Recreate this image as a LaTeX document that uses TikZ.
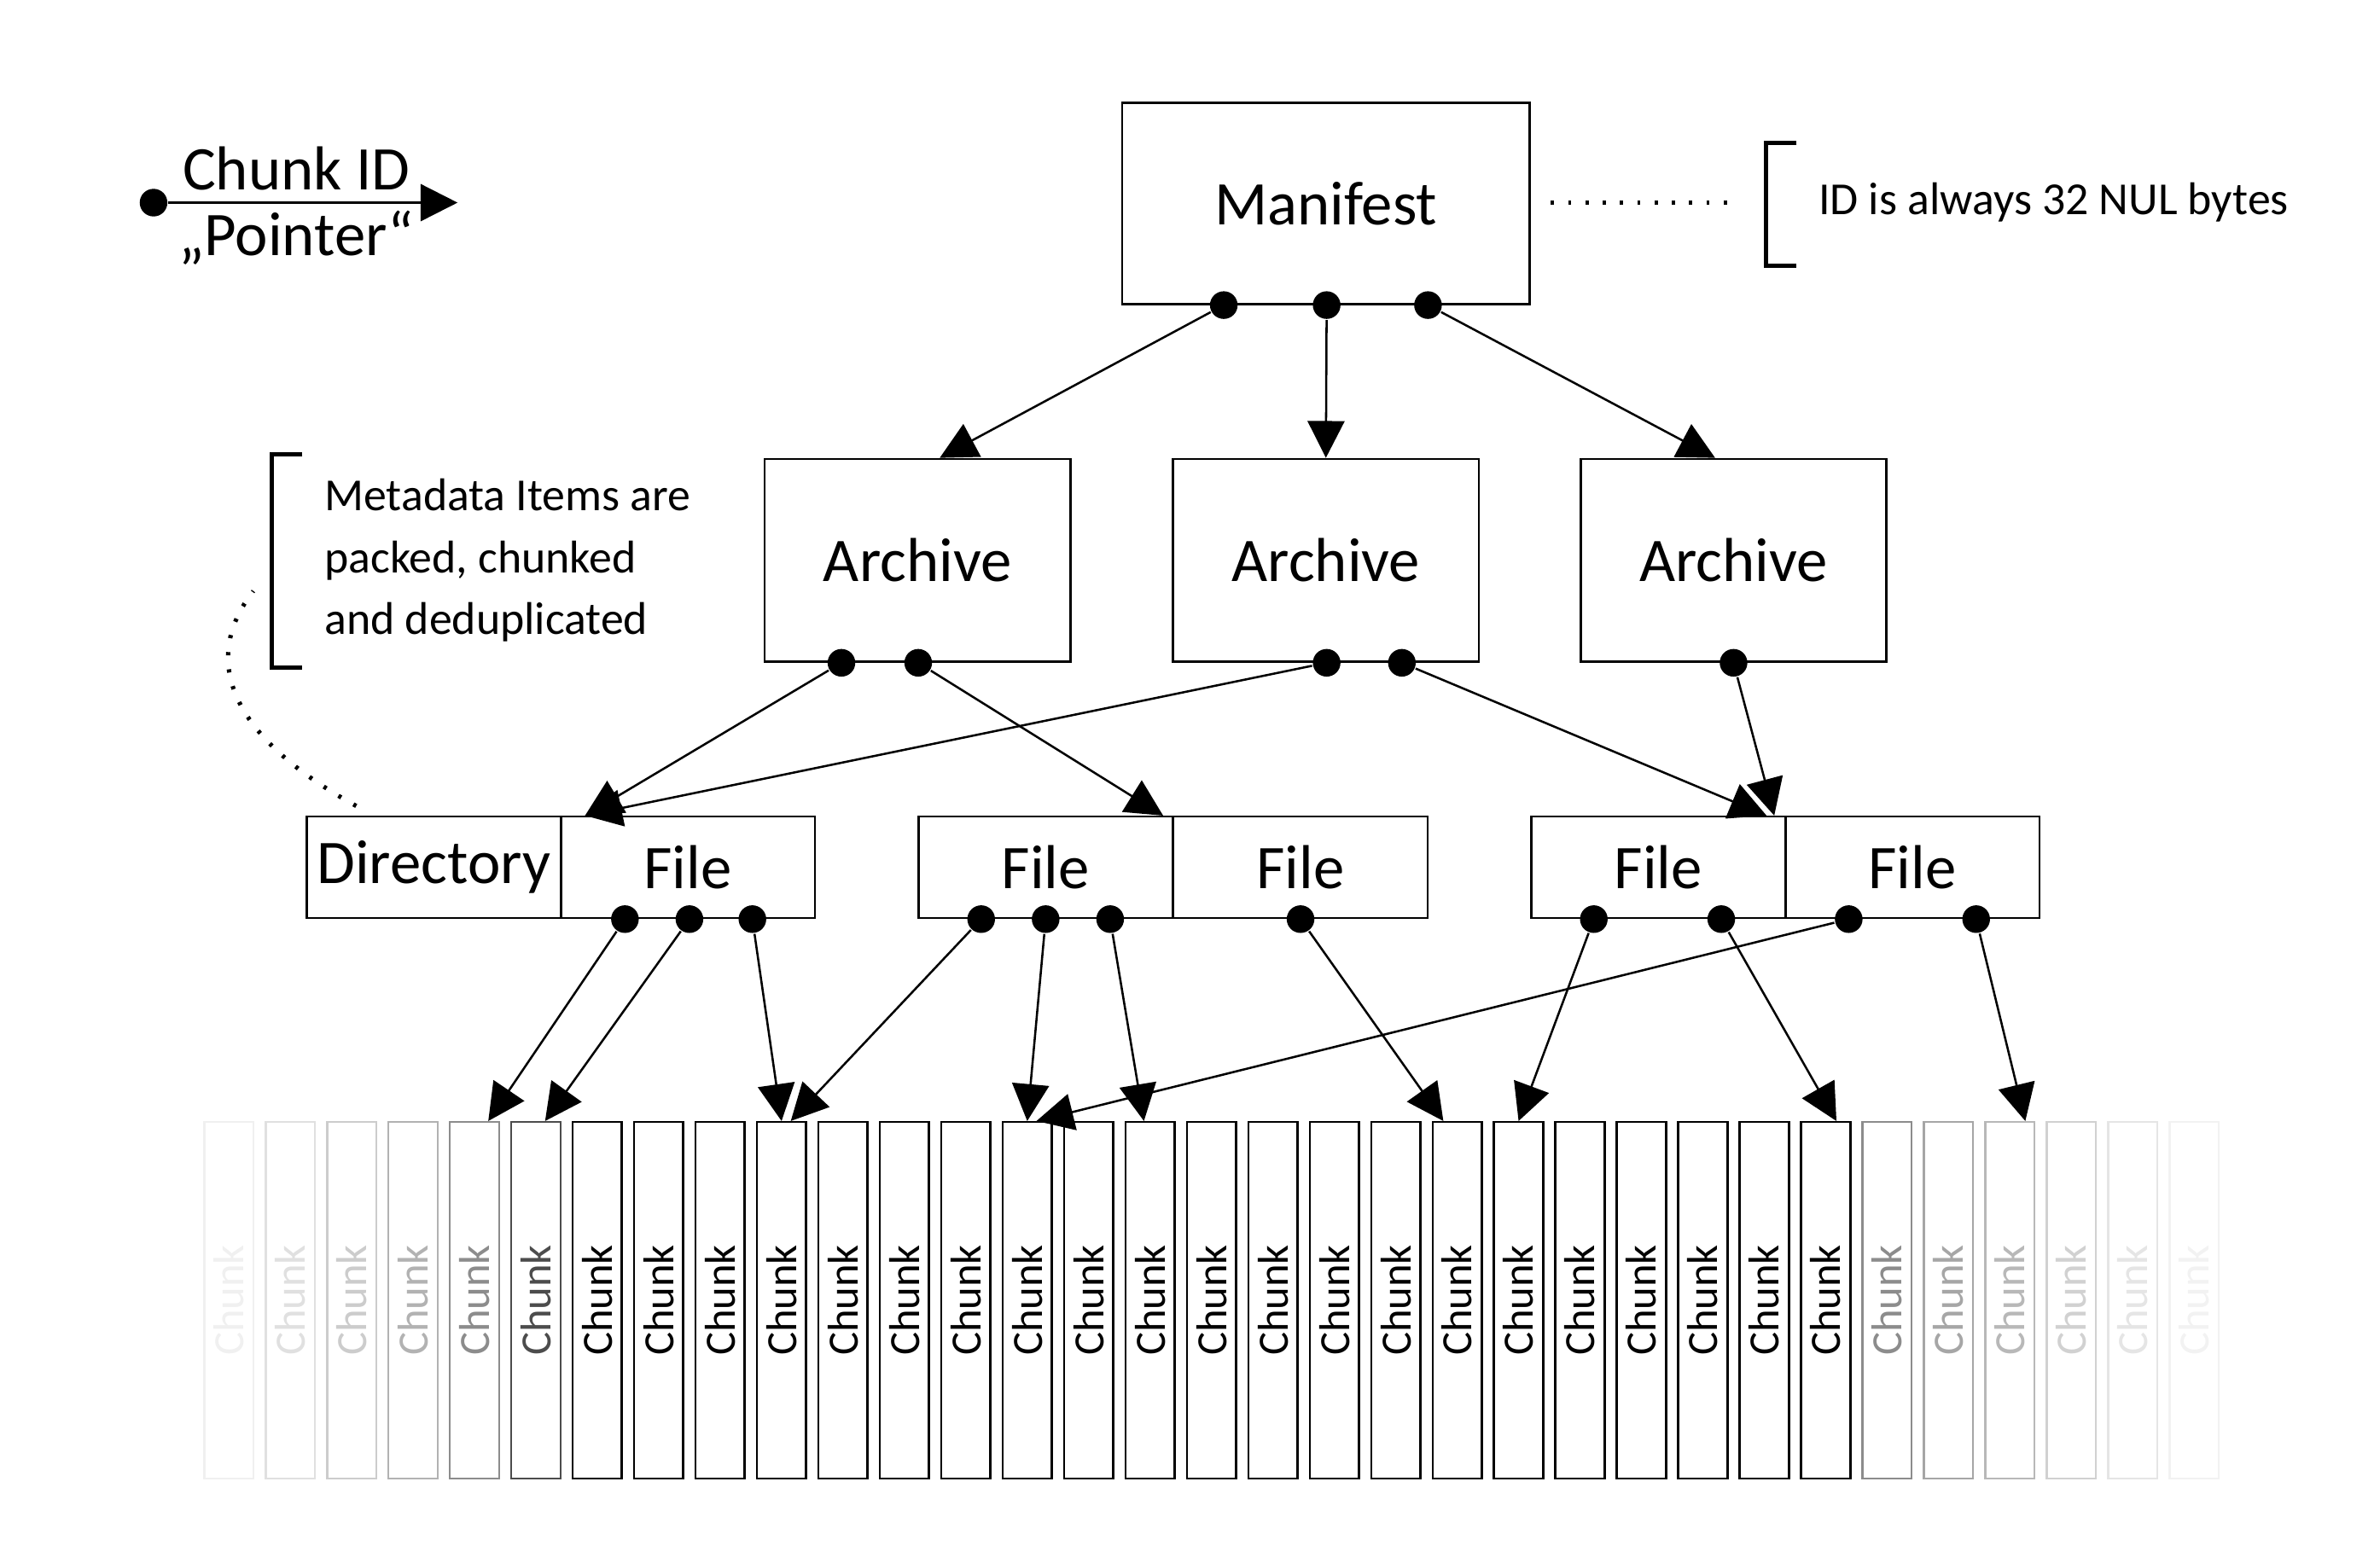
\documentclass[tikz,border=0pt]{standalone}
\usepackage{fontspec}
\setmainfont{Carlito}
\usetikzlibrary{arrows.meta,calc}

\tikzset{
  box/.style={draw,thin,inner sep=0pt,font=\fontsize{11.5}{14}\selectfont},
  chunk/.style={draw,thin,minimum width=0.32cm,minimum height=2.32cm,inner sep=0pt,
    font=\fontsize{8}{9}\selectfont},
  dot/.style={circle,fill=black,inner sep=0pt,minimum size=0.18cm},
  ptr/.style={-{Triangle[length=0.24cm,width=0.24cm]},thin},
  note/.style={font=\fontsize{8.5}{11.5}\selectfont,align=left,anchor=west},
  hint/.style={thick,dash pattern=on 0.6pt off 2.6pt},
}

\begin{document}
\begin{tikzpicture}[x=0.01cm,y=-0.01cm]
\useasboundingbox (0,0) rectangle (1550,1018);

% legend
\node[dot] (l1) at (100,132) {};
\coordinate (l2) at (298,132);
\draw[ptr] (l1) -- (l2);
\node[font=\fontsize{11.5}{14}\selectfont] at (193,110) {Chunk ID};
\node[font=\fontsize{11.5}{14}\selectfont] at (193,155) {„Pointer“};

% manifest and archives
\node[box,minimum width=2.65cm,minimum height=1.31cm] (man) at (863.5,132.5) {Manifest};
\node[box,minimum width=1.99cm,minimum height=1.32cm] (a1) at (597.5,365) {Archive};
\node[box,minimum width=1.99cm,minimum height=1.32cm] (a2) at (863.5,365) {Archive};
\node[box,minimum width=1.99cm,minimum height=1.32cm] (a3) at (1129,365) {Archive};

% notes
\draw[hint] (1010,132) -- (1130,132);
\draw[thick] (1170,93) -- (1150,93) -- (1150,173) -- (1170,173);
\node[note] at (1172,132) {ID is always 32 NUL bytes};
\draw[thick] (197,296) -- (177,296) -- (177,435) -- (197,435);
\node[note] at (199,365) {Metadata Items are\\packed, chunked\\and deduplicated};

% files
\foreach \n/\t/\x in {d/Directory/282.5, f1/File/448, f2/File/681, f3/File/847, f4/File/1080, f5/File/1245.5}
  \node[box,minimum width=1.655cm,minimum height=0.66cm] (\n) at (\x,565) {\t};
\draw[hint] (232,525) .. controls (150,480) and (130,430) .. (165,385);

% chunks
\foreach \k/\o in {0/0.06,1/0.12,2/0.2,3/0.3,4/0.45,5/0.7,6/1,7/1,8/1,9/1,10/1,11/1,12/1,
  13/1,14/1,15/1,16/1,17/1,18/1,19/1,20/1,21/1,22/1,23/1,24/1,25/1,26/1,27/0.45,
  28/0.35,29/0.28,30/0.18,31/0.1,32/0.05}
  \node[chunk,draw opacity=\o,text opacity=\o] (c\k) at (149+40*\k,847) {\rotatebox{90}{Chunk}};

% pointers
\foreach \n/\b/\x in {m1/man/797, m2/man/864, m3/man/930,
  p1/a1/548, p2/a1/598, p3/a2/864, p4/a2/913, p5/a3/1129,
  q1/f1/407, q2/f1/449, q3/f1/490, q4/f2/639, q5/f2/681, q6/f2/723, q7/f3/847,
  q8/f4/1038, q9/f4/1121, q10/f5/1204, q11/f5/1287}
  \node[dot] (\n) at (\x,0 |- \b.south) {};

\draw[ptr] (m1) -- ([xshift=0.145cm]a1.north);
\draw[ptr] (m2) -- (a2.north);
\draw[ptr] (m3) -- ([xshift=-0.12cm]a3.north);
\draw[ptr] (p1) -- ([xshift=0.15cm]d.north east);
\draw[ptr] (p2) -- ([xshift=-0.07cm]f2.north east);
\draw[ptr] (p3) -- ([xshift=0.15cm]d.north east);
\draw[ptr] (p4) -- ([xshift=-0.13cm]f4.north east);
\draw[ptr] (p5) -- ([xshift=-0.08cm]f4.north east);
\draw[ptr] (q1) -- ([xshift=0.09cm]c4.north);
\draw[ptr] (q2) -- ([xshift=0.06cm]c5.north);
\draw[ptr] (q3) -- (c9.north);
\draw[ptr] (q4) -- ([xshift=0.06cm]c9.north);
\draw[ptr] (q5) -- (c13.north);
\draw[ptr] (q6) -- ([xshift=-0.04cm]c15.north);
\draw[ptr] (q7) -- ([xshift=-0.09cm]c20.north);
\draw[ptr] (q8) -- (c21.north);
\draw[ptr] (q9) -- ([xshift=0.07cm]c26.north);
\draw[ptr] (q10) -- ([xshift=0.06cm]c13.north);
\draw[ptr] (q11) -- ([xshift=0.1cm]c29.north);
\end{tikzpicture}
\end{document}
